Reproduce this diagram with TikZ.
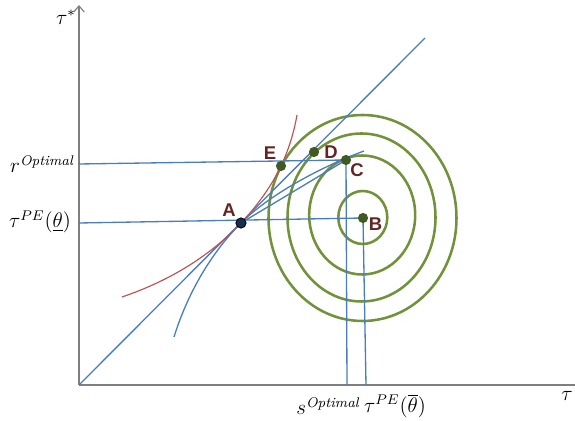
\documentclass[tikz,border=0pt]{standalone}
\usepackage{fontspec}
\newfontfamily\lblfont{Liberation Sans}
\usetikzlibrary{arrows.meta}
\definecolor{bluec}{HTML}{4A7EBB}
\definecolor{greenc}{HTML}{71923A}
\definecolor{redc}{HTML}{C0504D}
\definecolor{dotgreen}{HTML}{3F5A24}
\definecolor{dotnavy}{HTML}{15304E}
\definecolor{maroonc}{HTML}{632523}
\definecolor{axisc}{HTML}{7F7F7F}
\tikzset{
  axisline/.style={draw=axisc, line width=0.65pt},
  blueline/.style={draw=bluec, line width=0.75pt},
  redline/.style={draw=redc, line width=0.65pt},
  ell/.style={draw=greenc, line width=1.45pt},
  pdot/.style={circle, fill=dotgreen, inner sep=0pt, minimum size=5.8pt},
  ptlabel/.style={text=maroonc, font=\lblfont\bfseries\fontsize{10.5}{12}\selectfont, inner sep=0pt},
  mlabel/.style={font=\fontsize{12}{14}\selectfont, inner sep=0pt}
}
\begin{document}
\begin{tikzpicture}[x=0.02cm,y=-0.02cm]
\useasboundingbox (0,0) rectangle (575,421);
% key points
\coordinate (O) at (79,385);
\coordinate (Ytop) at (79,5);
\coordinate (Xend) at (575,385);
\coordinate (A) at (241,223);
\coordinate (B) at (363,218);
\coordinate (C) at (346,160);
\coordinate (D) at (314,152);
\coordinate (E) at (281,166);
\coordinate (Lend) at (425,38);
\coordinate (Rleft) at (79,164);
\coordinate (Tleft) at (79,223);
\coordinate (Cfoot) at (347,385);
\coordinate (Bfoot) at (366,385);
\coordinate (Cv) at (364,151);
\coordinate (BCstart) at (174,337);
\coordinate (RCstart) at (122,297);
\coordinate (RCend) at (297,115);
% ellipses
\draw[ell] (362.8,217.5) ellipse [x radius=24.5, y radius=26.5];
\draw[ell] (362.2,215) ellipse [x radius=53, y radius=59.5];
\draw[ell] (361.5,217.5) ellipse [x radius=74, y radius=84];
\draw[ell] (362.5,218) ellipse [x radius=94, y radius=103];
% axes
\draw[axisline] (O) -- (Xend);
\draw[axisline, -{Straight Barb[length=3.5pt,width=6pt]}] (O) -- (Ytop);
% blue lines
\draw[blueline] (O) -- (Lend);
\draw[blueline] (Rleft) -- (C);
\draw[blueline] (Tleft) -- (B);
\draw[blueline] (C) -- (Cfoot);
\draw[blueline] (B) -- (Bfoot);
\draw[blueline] (A) -- (C);
\draw[blueline] (BCstart) .. controls (188,292) and (212,252) .. (A)
  .. controls (268,196) and (318,168) .. (Cv);
% red curve
\draw[redline] (RCstart) .. controls (172,280) and (212,254) .. (A)
  .. controls (258,205) and (272,185) .. (E)
  .. controls (289,149) and (294,132) .. (RCend);
% dots
\node[circle, fill=dotnavy, draw=black, line width=0.5pt, inner sep=0pt, minimum size=5.8pt] (Adot) at (A) {};
\node[pdot] (Bdot) at (B) {};
\node[pdot] (Cdot) at (C) {};
\node[pdot] (Ddot) at (D) {};
\node[pdot] (Edot) at (E) {};
% point labels
\node[ptlabel] (Alab) at (229,210.5) {A};
\node[ptlabel] (Blab) at (375.5,224.5) {B};
\node[ptlabel] (Clab) at (357,170) {C};
\node[ptlabel] (Dlab) at (331,152.5) {D};
\node[ptlabel] (Elab) at (270,153) {E};
% axis labels
\node[mlabel] (tstar) at (66,17) {$\tau^{*}$};
\node[mlabel] (ropt) at (42,164) {$r^{\mathit{Optimal}}$};
\node[mlabel] (tpeu) at (40,222) {$\tau^{PE}(\underline{\theta})$};
\node[mlabel] (sopt) at (328,406) {$s^{\mathit{Optimal}}$};
\node[mlabel] (tpeo) at (395,406) {$\tau^{PE}(\overline{\theta})$};
\node[mlabel] (tau) at (567,396) {$\tau$};
\end{tikzpicture}
\end{document}
